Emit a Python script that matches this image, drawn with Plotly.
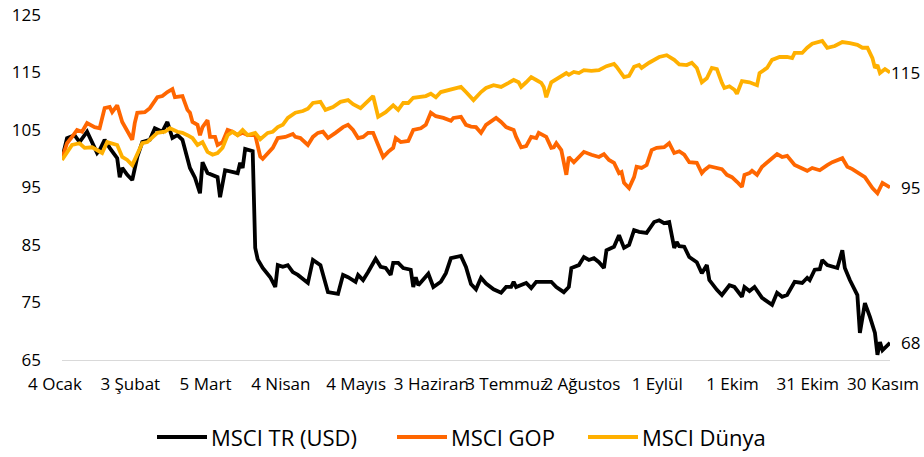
import plotly.graph_objects as go

# ---------------- data ----------------
tr_dates = ["2021-01-04","2021-01-06","2021-01-09","2021-01-11","2021-01-14","2021-01-16","2021-01-18","2021-01-19","2021-01-21","2021-01-23",
"2021-01-26","2021-01-27","2021-01-28","2021-01-30","2021-02-01","2021-02-03","2021-02-05","2021-02-08","2021-02-10","2021-02-13",
"2021-02-15","2021-02-17","2021-02-19","2021-02-21","2021-02-24","2021-02-26","2021-02-28","2021-03-01","2021-03-03","2021-03-07",
"2021-03-08","2021-03-10","2021-03-13","2021-03-15","2021-03-16","2021-03-17","2021-03-18","2021-03-20","2021-03-21","2021-03-22",
"2021-03-23","2021-03-25","2021-03-28","2021-03-30","2021-03-31","2021-04-02","2021-04-04","2021-04-06","2021-04-08","2021-04-12",
"2021-04-14","2021-04-17","2021-04-20","2021-04-24","2021-04-26","2021-04-28","2021-05-01","2021-05-02","2021-05-04","2021-05-06",
"2021-05-09","2021-05-11","2021-05-13","2021-05-15","2021-05-16","2021-05-18","2021-05-20","2021-05-23","2021-05-24","2021-05-25",
"2021-05-26","2021-05-30","2021-06-01","2021-06-04","2021-06-06","2021-06-08","2021-06-12","2021-06-14","2021-06-16","2021-06-18",
"2021-06-20","2021-06-22","2021-06-25","2021-06-28","2021-06-30","2021-07-02","2021-07-03","2021-07-04","2021-07-06","2021-07-08",
"2021-07-10","2021-07-12","2021-07-18","2021-07-20","2021-07-23","2021-07-25","2021-07-26","2021-07-29","2021-07-31","2021-08-02",
"2021-08-04","2021-08-06","2021-08-08","2021-08-09","2021-08-12","2021-08-14","2021-08-16","2021-08-18","2021-08-20","2021-08-22",
"2021-08-25","2021-08-28","2021-08-30","2021-09-01","2021-09-03","2021-09-05","2021-09-06","2021-09-07","2021-09-09","2021-09-11",
"2021-09-14","2021-09-16","2021-09-18","2021-09-19","2021-09-22","2021-09-24","2021-09-27","2021-09-29","2021-10-02","2021-10-03",
"2021-10-05","2021-10-07","2021-10-10","2021-10-14","2021-10-16","2021-10-18","2021-10-20","2021-10-23","2021-10-26","2021-10-28",
"2021-10-29","2021-10-31","2021-11-02","2021-11-03","2021-11-05","2021-11-08","2021-11-09","2021-11-11","2021-11-12","2021-11-14",
"2021-11-17","2021-11-18","2021-11-20","2021-11-22","2021-11-24","2021-11-25","2021-11-26","2021-11-27","2021-11-30"]
tr_values = [100.0,103.6,104.1,102.9,104.7,102.9,101.0,101.5,103.3,101.9,
100.1,96.8,98.4,97.2,96.3,100.3,102.9,103.3,105.3,104.7,
106.4,103.6,104.1,103.3,98.4,96.7,94.0,99.4,97.5,96.8,
93.3,98.0,97.7,97.5,99.3,98.4,101.7,101.5,101.3,84.5,
82.5,81.0,79.4,77.7,81.5,81.2,81.5,80.3,79.8,78.4,
82.4,81.5,76.8,76.5,79.8,79.4,78.6,79.8,78.9,80.3,
82.6,81.2,81.0,79.8,81.9,81.9,81.0,80.7,77.7,79.4,
78.0,80.0,77.7,78.6,80.1,82.7,83.1,81.2,78.2,77.3,
79.3,78.3,77.3,76.7,77.7,77.7,78.6,77.7,78.0,78.4,
77.5,78.6,78.6,77.7,76.8,77.7,81.0,81.5,82.9,82.4,
82.7,82.0,81.0,84.1,84.7,86.7,84.5,85.0,87.6,87.3,
87.1,89.0,89.3,88.8,89.0,84.5,85.5,84.8,84.7,82.9,
82.0,80.1,81.5,78.9,77.2,76.3,78.0,77.7,76.0,77.7,
77.0,77.7,75.8,74.6,76.7,76.0,76.3,78.6,78.4,79.3,
78.9,80.7,80.8,82.4,81.5,81.0,81.0,84.1,81.0,78.9,
76.3,69.7,74.9,72.5,69.7,65.9,68.1,66.7,68.0]

gop_dates = ["2021-01-04","2021-01-06","2021-01-08","2021-01-10","2021-01-12","2021-01-14","2021-01-17","2021-01-19","2021-01-21","2021-01-23",
"2021-01-24","2021-01-26","2021-01-28","2021-01-30","2021-02-01","2021-02-02","2021-02-03","2021-02-06","2021-02-08","2021-02-11",
"2021-02-13","2021-02-15","2021-02-17","2021-02-18","2021-02-21","2021-02-23","2021-02-24","2021-02-25","2021-02-27","2021-02-28",
"2021-03-01","2021-03-03","2021-03-04","2021-03-06","2021-03-07","2021-03-09","2021-03-11","2021-03-13","2021-03-15","2021-03-17",
"2021-03-19","2021-03-22","2021-03-24","2021-03-25","2021-03-27","2021-03-29","2021-03-31","2021-04-03","2021-04-06","2021-04-07",
"2021-04-09","2021-04-12","2021-04-14","2021-04-16","2021-04-18","2021-04-20","2021-04-23","2021-04-26","2021-04-28","2021-04-30",
"2021-05-02","2021-05-04","2021-05-06","2021-05-08","2021-05-10","2021-05-12","2021-05-14","2021-05-16","2021-05-17","2021-05-19",
"2021-05-22","2021-05-24","2021-05-27","2021-05-29","2021-05-31","2021-06-02","2021-06-05","2021-06-08","2021-06-09","2021-06-12",
"2021-06-14","2021-06-16","2021-06-18","2021-06-20","2021-06-22","2021-06-26","2021-06-28","2021-06-30","2021-07-03","2021-07-04",
"2021-07-06","2021-07-08","2021-07-10","2021-07-12","2021-07-13","2021-07-16","2021-07-18","2021-07-19","2021-07-20","2021-07-22",
"2021-07-24","2021-07-25","2021-07-27","2021-07-29","2021-07-31","2021-08-03","2021-08-06","2021-08-08","2021-08-10","2021-08-12",
"2021-08-14","2021-08-15","2021-08-16","2021-08-18","2021-08-20","2021-08-21","2021-08-23","2021-08-25","2021-08-27","2021-08-29",
"2021-09-01","2021-09-03","2021-09-05","2021-09-07","2021-09-09","2021-09-11","2021-09-14","2021-09-16","2021-09-17","2021-09-19",
"2021-09-22","2021-09-24","2021-09-26","2021-09-28","2021-09-30","2021-10-02","2021-10-03","2021-10-05","2021-10-06","2021-10-08",
"2021-10-10","2021-10-13","2021-10-16","2021-10-18","2021-10-20","2021-10-23","2021-10-26","2021-10-28","2021-10-30","2021-11-02",
"2021-11-05","2021-11-07","2021-11-11","2021-11-13","2021-11-15","2021-11-18","2021-11-20","2021-11-23","2021-11-25","2021-11-27",
"2021-11-30"]
gop_values = [100.0,102.7,103.8,105.0,104.7,106.2,105.5,105.3,108.8,109.0,
108.1,109.3,106.4,104.7,103.3,106.2,108.0,108.1,108.8,110.7,
110.9,111.6,112.1,110.7,110.9,108.5,108.0,106.4,105.9,104.1,
105.5,106.7,103.8,103.8,102.4,102.9,105.0,104.7,104.1,104.5,
104.1,104.1,100.4,100.0,101.0,101.9,103.6,103.8,104.3,103.8,
103.6,102.4,103.8,104.5,104.7,103.6,104.5,105.5,105.9,105.0,
103.6,103.8,104.5,104.5,102.4,100.3,101.2,101.9,103.6,102.9,
103.1,105.0,105.3,105.9,108.0,107.4,107.1,106.6,107.1,107.3,
105.9,105.6,105.5,104.5,105.9,107.1,106.4,105.5,105.0,103.8,
102.0,102.2,103.8,103.6,104.5,103.8,101.9,102.0,102.7,101.5,
97.2,100.3,99.4,100.3,101.2,100.7,100.3,100.8,99.8,99.3,
97.5,97.7,95.8,94.9,96.8,98.6,98.4,98.9,101.5,101.9,
102.0,102.7,101.0,101.3,100.7,99.4,99.3,97.5,98.0,98.7,
98.4,98.2,97.2,96.8,96.0,95.1,97.2,97.5,97.9,97.2,
98.6,99.8,100.8,100.3,100.5,98.9,98.2,97.9,98.4,98.0,
98.9,99.4,100.1,98.6,98.2,97.3,96.8,94.9,94.0,95.8,
95.0]

dunya_dates = ["2021-01-04","2021-01-06","2021-01-08","2021-01-11","2021-01-13","2021-01-16","2021-01-18","2021-01-20","2021-01-22","2021-01-24",
"2021-01-26","2021-01-28","2021-01-30","2021-02-01","2021-02-03","2021-02-05","2021-02-07","2021-02-09","2021-02-11","2021-02-14",
"2021-02-16","2021-02-19","2021-02-21","2021-02-23","2021-02-25","2021-02-27","2021-03-01","2021-03-03","2021-03-05","2021-03-07",
"2021-03-09","2021-03-11","2021-03-13","2021-03-15","2021-03-17","2021-03-19","2021-03-22","2021-03-24","2021-03-27","2021-03-29",
"2021-03-31","2021-04-02","2021-04-04","2021-04-07","2021-04-10","2021-04-12","2021-04-14","2021-04-17","2021-04-19","2021-04-22",
"2021-04-25","2021-04-28","2021-04-30","2021-05-03","2021-05-06","2021-05-08","2021-05-10","2021-05-13","2021-05-16","2021-05-18",
"2021-05-20","2021-05-22","2021-05-24","2021-05-26","2021-05-29","2021-05-31","2021-06-02","2021-06-04","2021-06-07","2021-06-10",
"2021-06-12","2021-06-14","2021-06-17","2021-06-20","2021-06-22","2021-06-25","2021-06-28","2021-07-01","2021-07-03","2021-07-05",
"2021-07-06","2021-07-08","2021-07-10","2021-07-12","2021-07-14","2021-07-15","2021-07-16","2021-07-18","2021-07-21","2021-07-24",
"2021-07-25","2021-07-27","2021-07-29","2021-07-31","2021-08-03","2021-08-06","2021-08-09","2021-08-12","2021-08-13","2021-08-16",
"2021-08-18","2021-08-20","2021-08-22","2021-08-23","2021-08-26","2021-08-28","2021-08-30","2021-09-02","2021-09-05","2021-09-07",
"2021-09-10","2021-09-12","2021-09-14","2021-09-16","2021-09-18","2021-09-20","2021-09-22","2021-09-24","2021-09-25","2021-09-27",
"2021-09-29","2021-09-30","2021-10-02","2021-10-05","2021-10-08","2021-10-09","2021-10-12","2021-10-14","2021-10-17","2021-10-20",
"2021-10-22","2021-10-23","2021-10-26","2021-10-28","2021-10-30","2021-11-03","2021-11-05","2021-11-08","2021-11-11","2021-11-14",
"2021-11-17","2021-11-19","2021-11-21","2021-11-23","2021-11-24","2021-11-25","2021-11-26","2021-11-28","2021-11-30"]
dunya_values = [99.8,101.0,102.4,102.7,101.9,102.0,101.5,101.0,102.9,102.7,
102.4,100.3,99.8,98.9,100.7,102.7,102.9,103.8,104.5,104.7,
105.3,104.7,104.5,104.1,103.6,102.4,102.9,101.2,100.7,101.0,
101.9,104.1,104.7,104.1,105.0,104.1,104.5,103.4,104.5,104.7,
105.5,105.9,107.1,108.0,108.3,108.7,109.7,109.9,108.5,109.0,
109.9,110.2,109.5,108.8,110.2,110.9,107.3,108.1,109.3,108.5,
109.7,109.7,110.6,110.7,110.9,111.3,110.7,111.6,112.0,112.3,
112.5,111.6,110.2,111.6,112.3,112.8,112.5,113.2,113.7,113.3,
112.5,113.3,114.2,113.7,113.2,112.5,110.7,113.3,114.2,114.9,
114.6,115.1,114.9,115.4,115.3,115.4,116.1,116.5,116.0,114.2,
114.4,116.0,116.3,115.8,116.7,117.2,117.7,118.0,117.2,116.4,
116.3,116.7,115.8,113.3,114.0,115.8,115.6,113.2,112.3,112.6,
112.0,111.3,113.5,113.3,112.8,114.9,115.8,117.2,117.7,117.7,
117.5,118.4,118.4,119.3,120.0,120.5,119.3,119.6,120.3,120.1,
119.8,119.3,119.3,117.5,115.8,116.3,114.9,115.6,115.0]

tick_dates = ["2021-01-04","2021-02-03","2021-03-05","2021-04-04","2021-05-04","2021-06-03",
              "2021-07-03","2021-08-02","2021-09-01","2021-10-01","2021-10-31","2021-11-30"]
tick_labels = ["4 Ocak","3 Şubat","5 Mart","4 Nisan","4 Mayıs","3 Haziran",
               "3 Temmuz","2 Ağustos","1 Eylül","1 Ekim","31 Ekim","30 Kasım"]
y_ticks = [65, 75, 85, 95, 105, 115, 125]

series_names = ["MSCI TR (USD)", "MSCI GOP", "MSCI Dünya"]
series_dates = [tr_dates, gop_dates, dunya_dates]
series_values = [tr_values, gop_values, dunya_values]
series_colors = ["#000000", "#FF6600", "#FFB000"]

FONT = "Open Sans"
TICK_SIZE = 17
LEG_SIZE = 22

# plot-area geometry (pixels)
W, H = 924, 457
ML, MR, MT, MB = 62, 34, 15, 97
PW, PH = W - ML - MR, H - MT - MB


def px_to_paper_x(px):
    return (px - ML) / PW


def px_to_paper_y(py):
    return (H - MB - py) / PH


# custom legend layout: sample-line start pixels
legend_line_x0 = [157, 397, 588]
legend_line_len = 50
legend_y_px = 437

fig = go.Figure()
for i in range(3):
    xs, ys, col, name = series_dates[i], series_values[i], series_colors[i], series_names[i]
    fig.add_trace(go.Scatter(x=xs, y=ys, mode="lines", name=name,
                             line=dict(color=col, width=3.8), cliponaxis=False,
                             showlegend=False))
    # end-value data label
    fig.add_annotation(x=px_to_paper_x(922), xref="paper", y=ys[-1], yref="y",
                       text=f"{ys[-1]:.0f}", showarrow=False,
                       xanchor="right", yanchor="middle",
                       font=dict(family=FONT, size=TICK_SIZE, color="#000000"))
    # legend entry
    x0 = legend_line_x0[i]
    fig.add_shape(type="line", xref="paper", yref="paper",
                  x0=px_to_paper_x(x0), x1=px_to_paper_x(x0 + legend_line_len),
                  y0=px_to_paper_y(legend_y_px), y1=px_to_paper_y(legend_y_px),
                  line=dict(color=col, width=4))
    fig.add_annotation(x=px_to_paper_x(x0 + legend_line_len + 2), xref="paper",
                       y=px_to_paper_y(legend_y_px), yref="paper",
                       text=name, showarrow=False, xanchor="left", yanchor="middle",
                       font=dict(family=FONT, size=LEG_SIZE, color="#000000"))

fig.update_layout(
    width=W, height=H,
    margin=dict(l=ML, r=MR, t=MT, b=MB, autoexpand=False),
    paper_bgcolor="white", plot_bgcolor="white",
    font=dict(family=FONT, size=TICK_SIZE, color="#000000"),
    showlegend=False,
    hovermode=False,
)
fig.update_xaxes(type="date", range=["2021-01-04", "2021-11-30"],
                 tickmode="array", tickvals=tick_dates, ticktext=tick_labels,
                 tickangle=0, showgrid=False, zeroline=False, automargin=False,
                 showline=True, linecolor="#D9D9D9", linewidth=1,
                 ticks="", ticklabelstandoff=9, ticklabelshift=-7,
                 tickfont=dict(family=FONT, size=TICK_SIZE))
fig.update_yaxes(range=[65, 125], tickmode="array", tickvals=y_ticks, automargin=False,
                 showgrid=False, zeroline=False, showline=False, ticks="",
                 ticklabelstandoff=20, tickfont=dict(family=FONT, size=TICK_SIZE))

# the page's default 8px body margin would shift the figure; remove it
fig.write_html("out.html",
               config={"displayModeBar": False, "staticPlot": True},
               post_script="document.body.style.margin='0';document.body.style.overflow='hidden';")
